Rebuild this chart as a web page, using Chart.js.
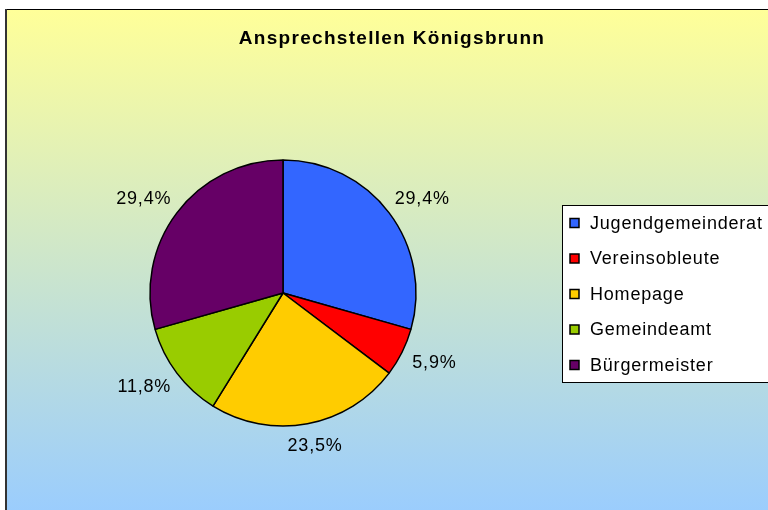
<!DOCTYPE html>
<html>
<head>
<meta charset="utf-8">
<script src="https://cdn.jsdelivr.net/npm/chart.js@4.4.1/dist/chart.umd.min.js"></script>
<style>
  html, body { margin: 0; padding: 0; background: #fff; }
  #wrap { width: 768px; height: 510px; }
</style>
</head>
<body>
<div id="wrap"><canvas id="myChart" width="768" height="510"></canvas></div>
<script>
const chartTitle = 'Ansprechstellen Königsbrunn';
const categories = ['Jugendgemeinderat', 'Vereinsobleute', 'Homepage', 'Gemeindeamt', 'Bürgermeister'];
const counts = [5, 1, 4, 2, 5];
const sliceColors = ['#3366FF', '#FF0000', '#FFCC00', '#99CC00', '#660066'];

const FONT = '"Liberation Sans", Arial, sans-serif';

// frame, gradient, title, percent labels and the boxed legend
const excelLook = {
  id: 'excelLook',
  beforeDraw(chart) {
    const c = chart.ctx;
    c.save();
    const g = c.createLinearGradient(0, 10, 0, 520);
    g.addColorStop(0, '#FFFF99');
    g.addColorStop(1, '#99CCFF');
    c.fillStyle = g;
    c.fillRect(6, 9, 770, 510);
    c.fillStyle = '#000';
    c.fillRect(5, 9, 768, 1);
    c.fillStyle = '#333';
    c.fillRect(5, 9, 2, 510);

    c.fillStyle = '#000';
    c.font = 'bold 19px ' + FONT;
    c.letterSpacing = '1.3px';
    c.textAlign = 'center';
    c.textBaseline = 'middle';
    c.fillText(chartTitle, 392, 39);
    c.restore();
  },
  afterDatasetsDraw(chart) {
    const c = chart.ctx;
    const meta = chart.getDatasetMeta(0);
    const data = chart.data.datasets[0].data;
    const total = data.reduce((a, b) => a + b, 0);
    c.save();
    c.font = '18px ' + FONT;
    c.letterSpacing = '0.8px';
    c.fillStyle = '#000';
    c.textAlign = 'center';
    c.textBaseline = 'middle';
    meta.data.forEach((arc, i) => {
      const p = arc.getProps(['x', 'y', 'startAngle', 'endAngle', 'outerRadius'], true);
      const mid = (p.startAngle + p.endAngle) / 2;
      const txt = (data[i] / total * 100).toFixed(1).replace('.', ',') + '%';
      const w = c.measureText(txt).width;
      const d = p.outerRadius + 14;
      const x = p.x + Math.cos(mid) * d + Math.cos(mid) * w / 2;
      const y = p.y + Math.sin(mid) * d + Math.sin(mid) * 9;
      c.fillText(txt, x, y);
    });

    // legend box
    c.fillStyle = '#fff';
    c.fillRect(562, 205, 220, 178);
    c.strokeStyle = '#000';
    c.lineWidth = 1;
    c.strokeRect(562.5, 205.5, 220, 177);
    c.textAlign = 'left';
    chart.data.labels.forEach((lab, i) => {
      const y = 223.5 + i * 35.5;
      c.fillStyle = sliceColors[i];
      c.fillRect(570, y - 5, 9, 9);
      c.strokeStyle = '#000';
      c.lineWidth = 1.5;
      c.strokeRect(570, y - 5, 9, 9);
      c.fillStyle = '#000';
      c.fillText(lab, 590, y + 0.5);
    });
    c.restore();
  }
};

const ctx = document.getElementById('myChart');

var chart = new Chart(ctx, {
  type: 'pie',
  data: {
    labels: categories,
    datasets: [{
      data: counts,
      backgroundColor: sliceColors,
      borderColor: '#000',
      borderWidth: 1.5,
      radius: 133
    }]
  },
  options: {
    responsive: false,
    animation: false,
    layout: {
      padding: { left: 150, right: 352, top: 160, bottom: 84 }
    },
    plugins: {
      legend: { display: false },
      title: { display: false },
      tooltip: { enabled: false }
    }
  },
  plugins: [excelLook]
});
</script>
</body>
</html>
